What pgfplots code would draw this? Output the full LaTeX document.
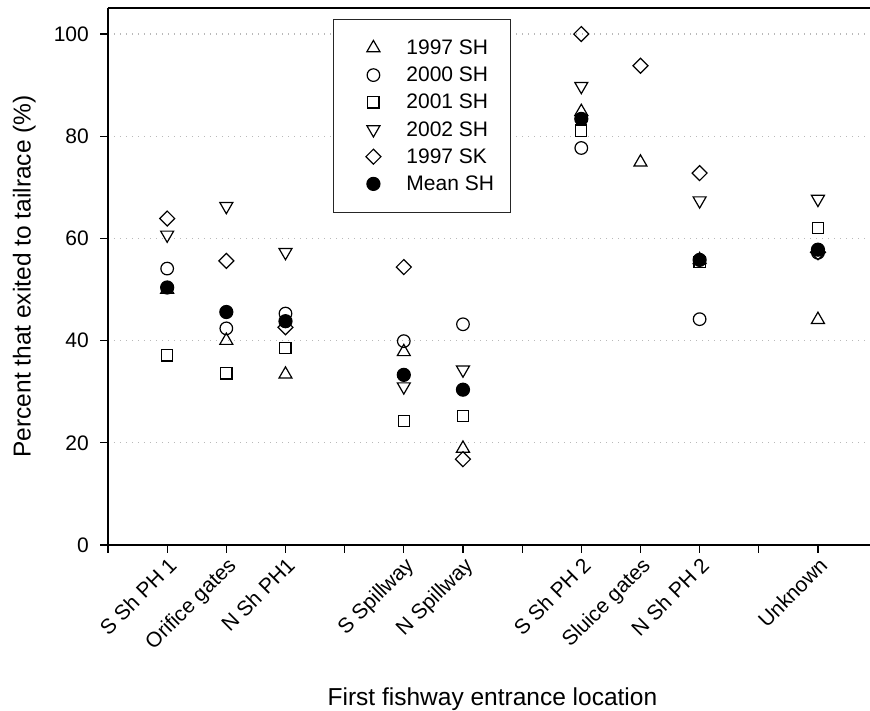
\documentclass[border=0pt]{standalone}
\usepackage{pgfplots}
\pgfplotsset{compat=1.18}
\usepackage{fontspec}
\setmainfont{Liberation Sans}
\pgfplotsset{
  pt/.style={only marks, line width=1.2bp, black,
    legend image code/.code={\pgfpathrectangle{\pgfpoint{-26bp}{-6bp}}{\pgfpoint{57bp}{12bp}}\pgfusepath{use as bounding box}\draw[##1] plot coordinates {(0bp,0bp)};}},
}
\begin{document}
\begin{tikzpicture}
\begin{axis}[
  scale only axis,
  width=762bp, height=537bp,
  xmin=0, xmax=12.88, ymin=0, ymax=105.1,
  axis x line*=box, axis y line*=left,
  xtick pos=bottom, ytick pos=left,
  xtick={0,1,...,12},
  xticklabels={,S Sh PH 1,Orifice gates,N Sh PH1,,S Spillway,N Spillway,,S Sh PH 2,Sluice gates,N Sh PH 2,,Unknown},
  ytick={0,20,...,100},
  tick align=outside,
  major tick length=8bp,
  tick style={black, line width=1.2bp},
  axis line style={black, line width=1.2bp},
  ymajorgrids,
  major grid style={gray!55, line width=1.2bp, dash pattern=on 1.2bp off 4.8bp},
  /pgf/number format/assume math mode=true,
  tick label style={font=\fontsize{21bp}{25bp}\selectfont},
  yticklabel style={inner sep=0pt, xshift=-11bp},
  xticklabel style={rotate=45, anchor=north east, inner sep=2bp},
  xlabel={First fishway entrance location},
  ylabel={Percent that exited to tailrace (\%)},
  label style={font=\fontsize{24.5bp}{28bp}\selectfont},
  xlabel style={at={(rel axis cs:0.5045,-0.2993)}, anchor=base},
  ylabel style={at={(rel axis cs:-0.1014,0.5)}, anchor=base},
  legend style={at={(rel axis cs:0.2953,0.9795)}, anchor=north west,
    draw=black!85, line width=0.8bp, fill=white,
    font=\fontsize{21bp}{25bp}\selectfont,
    inner xsep=14bp, inner ysep=18bp, row sep=6.2bp,
    cells={anchor=west},
    nodes={text height=15bp, text depth=2bp, inner sep=2bp}},
]
\addplot[pt, mark=triangle, mark size=7.5bp] coordinates {
 (1,50.0) (2,40.0) (3,33.4) (5,37.8) (6,18.9) (8,84.8) (9,74.9) (10,55.8) (12,44.1)};
\addlegendentry{1997 SH}
\addplot[pt, mark=o, mark size=6.3bp] coordinates {
 (1,54.1) (2,42.4) (3,45.3) (5,39.9) (6,43.2) (8,77.7) (10,44.2) (12,57.2)};
\addlegendentry{2000 SH}
\addplot[pt, mark=square, mark size=5.6bp] coordinates {
 (1,37.1) (2,33.6) (3,38.6) (5,24.3) (6,25.3) (8,81.1) (10,55.4) (12,62.1)};
\addlegendentry{2001 SH}
\addplot[pt, mark=triangle, mark options={rotate=180}, mark size=7.5bp] coordinates {
 (1,60.7) (2,66.3) (3,57.3) (5,31.0) (6,34.3) (8,89.8) (10,67.4) (12,67.7)};
\addlegendentry{2002 SH}
\addplot[pt, mark=square, mark options={rotate=45}, mark size=5.3bp] coordinates {
 (1,63.9) (2,55.6) (3,42.6) (5,54.4) (6,16.8) (8,100) (9,93.8) (10,72.8) (12,57.3)};
\addlegendentry{1997 SK}
\addplot[pt, mark=*, mark size=6.5bp, fill=black] coordinates {
 (1,50.4) (2,45.6) (3,43.8) (5,33.3) (6,30.4) (8,83.4) (10,55.8) (12,57.8)};
\addlegendentry{Mean SH}
\end{axis}
\pgfresetboundingbox
\path (-108bp,-166bp) rectangle (762bp,545bp);
\end{tikzpicture}
\end{document}
